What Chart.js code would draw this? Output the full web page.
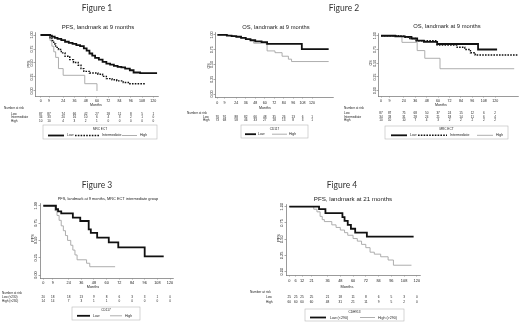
<!DOCTYPE html>
<html>
<head>
<meta charset="utf-8">
<script src="https://cdn.jsdelivr.net/npm/chart.js@4.4.1/dist/chart.umd.min.js"></script>
<style>
  html, body { margin: 0; padding: 0; background: #fff; }
  #page { position: relative; width: 520px; height: 327px; overflow: hidden; background: #fff; }
  .fig { position: absolute; font-family: Lato, "Open Sans", sans-serif; font-size: 8.5px; color: #333; transform: translateX(-50%); white-space: nowrap; filter: grayscale(1); }
</style>
</head>
<body>
<div id="page">
  <div class="fig" style="left:97px;top:3px">Figure 1</div>
  <div class="fig" style="left:344px;top:3px">Figure 2</div>
  <div class="fig" style="left:97px;top:180px">Figure 3</div>
  <div class="fig" style="left:342px;top:180px">Figure 4</div>
</div>
<script>
// ---- data ----
var yTicks = [0, 0.25, 0.5, 0.75, 1];
var ticks9 = [0, 9, 24, 36, 48, 60, 72, 84, 96, 108, 120];
var ticks21 = [0, 6, 12, 21, 36, 48, 60, 72, 84, 96, 108, 120];

// Figure 1: PFS, landmark 9 months, by MRC ECT
var f1LowT = [0, 10, 12, 15, 18, 22, 26, 30, 34, 38, 42, 46, 49, 52, 55, 58, 62, 66, 70, 74, 78, 82, 86, 90, 95, 99, 106, 124];
var f1LowS = [1, .99, .97, .95, .93, .91, .88, .86, .84, .82, .80, .76, .72, .67, .63, .59, .56, .52, .49, .47, .45, .43, .42, .40, .37, .33, .32, .32];
var f1IntT = [0, 10, 12, 14, 16, 19, 22, 26, 31, 35, 40, 43, 46, 52, 61, 66, 70, 76, 81, 88, 95, 111];
var f1IntS = [1, .95, .90, .84, .78, .74, .68, .62, .56, .51, .46, .40, .35, .32, .30, .26, .22, .20, .18, .15, .13, .13];
var f1HighT = [0, 10, 12, 14, 16, 19, 24, 47, 60];
var f1HighS = [1, .9, .8, .7, .6, .40, .28, .13, 0];
var f1RiskLow = [87, 87, 74, 66, 42, 27, 18, 11, 8, 5, 1];
var f1RiskInt = [34, 33, 20, 16, 10, 6, 4, 3, 2, 1, 0];
var f1RiskHigh = [10, 10, 4, 3, 2, 1, 0, 0, 0, 0, 0];

// Figure 2 left: OS, landmark 9 months, by CD117
var f2aLowT = [0, 12, 18, 24, 30, 36, 42, 48, 56, 63, 107, 141];
var f2aLowS = [1, .99, .98, .97, .95, .93, .91, .89, .88, .85, .76, .76];
var f2aHighT = [0, 14, 22, 30, 36, 41, 46, 61, 63, 73, 82, 90, 94, 141];
var f2aHighS = [1, .99, .97, .95, .93, .91, .86, .85, .73, .70, .64, .59, .55, .55];
var f2aRiskLow = [91, 91, 88, 82, 66, 48, 35, 26, 13, 6, 1];
var f2aRiskHigh = [73, 68, 58, 46, 33, 27, 18, 13, 8, 3, 1];

// Figure 2 right: OS, landmark 9 months, by MRC ECT
var f2bLowT = [0, 15, 25, 32, 38, 45, 59, 102, 122];
var f2bLowS = [1, .99, .98, .95, .91, .89, .85, .75, .75];
var f2bIntT = [0, 18, 24, 29, 36, 59, 80, 88, 94, 99, 145];
var f2bIntS = [1, .99, .97, .95, .91, .83, .79, .75, .69, .65, .65];
var f2bHighT = [0, 22, 38, 46, 62, 140];
var f2bHighS = [1, .88, .73, .59, .40, .40];
var f2bRiskLow = [87, 87, 75, 68, 50, 37, 24, 15, 12, 6, 2];
var f2bRiskInt = [34, 33, 31, 28, 24, 21, 18, 14, 11, 6, 4];
var f2bRiskHigh = [10, 10, 10, 7, 4, 3, 2, 2, 2, 2, 2];

// Figure 3: PFS, MRC ECT intermediate group
var f3LowT = [0, 12, 14, 17, 28, 35, 43, 45, 51, 62, 71, 96, 114];
var f3LowS = [1, .95, .92, .89, .83, .78, .66, .61, .54, .47, .40, .27, .27];
var f3HighT = [0, 11, 13, 15, 17, 19, 21, 23, 26, 28, 30, 32, 41, 44, 68];
var f3HighS = [1, .93, .86, .79, .71, .64, .57, .50, .43, .36, .29, .22, .17, .12, .12];
var f3RiskLow = [20, 18, 18, 13, 9, 8, 6, 3, 3, 1, 0];
var f3RiskHigh = [14, 14, 7, 3, 1, 1, 0, 0, 0, 0, 0];

// Figure 4: PFS, landmark 21 months
var f4LowT = [0, 28, 34, 50, 52, 55, 58, 62, 73, 117];
var f4LowS = [1, .96, .90, .84, .78, .72, .66, .60, .54, .54];
var f4HighT = [0, 23, 26, 29, 31, 33, 40, 44, 48, 52, 55, 60, 64, 68, 72, 76, 80, 86, 93, 98, 115];
var f4HighS = [1, .96, .92, .85, .80, .77, .72, .68, .64, .60, .56, .51, .47, .42, .37, .30, .27, .23, .18, .10, .10];
var f4RiskLow = [25, 25, 25, 25, 21, 18, 11, 8, 6, 5, 3, 0];
var f4RiskHigh = [60, 60, 60, 60, 48, 31, 21, 11, 9, 5, 2, 0];

// ---- drawing ----
var FONT = '"Liberation Sans", Arial, sans-serif';
var styles = {
  low: { color: '#111', width: 1.8, dash: [] },
  int: { color: '#111', width: 1.4, dash: [1.6, 1.2] },
  high: { color: '#a5a5a5', width: 0.9, dash: [] }
};

function curve(t, s, st) {
  return {
    data: t.map(function (v, i) { return { x: v, y: s[i] }; }),
    showLine: true, stepped: true, pointRadius: 0,
    borderColor: styles[st].color, borderWidth: styles[st].width, borderDash: styles[st].dash
  };
}

var kmExtras = {
  id: 'kmExtras',
  afterDraw: function (chart, args, o) {
    var ctx = chart.ctx, a = chart.chartArea;
    var xs = chart.scales.x, ys = chart.scales.y;
    function X(v) { return v - o.box.x; }
    function Y(v) { return v - o.box.y; }
    ctx.save();
    ctx.fillStyle = '#222';
    ctx.textBaseline = 'middle';
    ctx.textAlign = 'center';
    ctx.font = o.titleSize + 'px ' + FONT;
    ctx.fillText(o.title, X(o.titleX), Y(o.titleY));
    ctx.font = o.tickSize + 'px ' + FONT;
    yTicks.forEach(function (v) {
      ctx.save();
      ctx.translate(a.left - o.yLabOff, ys.getPixelForValue(v));
      ctx.rotate(-Math.PI / 2);
      ctx.fillText(v.toFixed(2), 0, 0);
      ctx.restore();
    });
    ctx.save();
    ctx.translate(X(o.yTitleX), Y(o.yTitleY));
    ctx.rotate(-Math.PI / 2);
    ctx.fillText(o.yTitle, 0, 0);
    ctx.restore();
    ctx.fillText('Months', X(o.monthsX), Y(o.monthsY));
    // number at risk
    ctx.font = o.riskSize + 'px ' + FONT;
    ctx.textAlign = 'left';
    ctx.fillText('Number at risk', X(o.riskX), Y(o.riskY));
    o.rows.forEach(function (r) {
      ctx.textAlign = 'left';
      ctx.fillText(r.label, X(o.rowX), Y(r.y));
      ctx.textAlign = 'center';
      r.counts.forEach(function (n, i) {
        ctx.fillText(String(n), xs.getPixelForValue(o.xTicks[i]), Y(r.y));
      });
    });
    // legend box
    var L = o.legend;
    ctx.strokeStyle = '#b8b8b8';
    ctx.lineWidth = 0.6;
    ctx.strokeRect(X(L.l), Y(L.t), L.r - L.l, L.b - L.t);
    ctx.textAlign = 'center';
    ctx.font = o.riskSize + 'px ' + FONT;
    ctx.fillText(L.title, X((L.l + L.r) / 2), Y(L.ty));
    ctx.font = (o.riskSize + 0.4) + 'px ' + FONT;
    L.items.forEach(function (it) {
      var st = styles[it.st];
      ctx.beginPath();
      ctx.strokeStyle = st.color;
      ctx.lineWidth = st.width;
      ctx.setLineDash(st.dash);
      ctx.moveTo(X(it.x1), Y(L.iy));
      ctx.lineTo(X(it.x2), Y(L.iy));
      ctx.stroke();
      ctx.setLineDash([]);
      ctx.textAlign = 'left';
      ctx.fillText(it.label, X(it.tx), Y(L.iy));
    });
    ctx.restore();
  }
};

function makePanel(p) {
  var cv = document.createElement('canvas');
  cv.width = p.box.w;
  cv.height = p.box.h;
  cv.style.position = 'absolute';
  cv.style.left = p.box.x + 'px';
  cv.style.top = p.box.y + 'px';
  document.getElementById('page').appendChild(cv);
  var xh = 11;
  var pad = {
    left: p.area.l - p.box.x - 2,
    top: p.area.t - p.box.y,
    right: p.box.x + p.box.w - p.area.r,
    bottom: p.box.y + p.box.h - p.area.b - xh
  };
  var axisGrid = { drawOnChartArea: false, tickLength: 1.5, color: '#555', lineWidth: 0.5 };
  var axisBorder = { color: '#555', width: 0.6 };
  new Chart(cv, {
    type: 'scatter',
    data: { datasets: p.datasets },
    options: {
      responsive: false,
      animation: false,
      layout: { padding: pad },
      plugins: { legend: { display: false }, tooltip: { enabled: false }, kmExtras: p.extras },
      scales: {
        x: {
          type: 'linear', min: p.xMin, max: p.xMax,
          afterBuildTicks: function (s) { s.ticks = p.extras.xTicks.map(function (v) { return { value: v }; }); },
          afterFit: function (s) { s.height = xh; },
          ticks: { autoSkip: false, maxRotation: 0, minRotation: 0, padding: p.xPad, color: '#222',
                   font: { size: p.extras.tickSize, family: FONT }, callback: function (v) { return String(v); } },
          grid: axisGrid, border: axisBorder
        },
        y: {
          type: 'linear', min: p.yMin, max: p.yMax,
          afterBuildTicks: function (s) { s.ticks = yTicks.map(function (v) { return { value: v }; }); },
          afterFit: function (s) { s.width = 2; },
          ticks: { display: false },
          grid: axisGrid, border: axisBorder
        }
      }
    },
    plugins: [kmExtras]
  });
}

// Figure 1
makePanel({
  box: { x: 0, y: 0, w: 170, h: 145 }, area: { l: 35, t: 32, r: 158, b: 96 },
  xMin: -6, xMax: 125, yMin: -0.09, yMax: 1.054, xPad: 1,
  datasets: [curve(f1LowT, f1LowS, 'low'), curve(f1IntT, f1IntS, 'int'), curve(f1HighT, f1HighS, 'high')],
  extras: {
    box: { x: 0, y: 0 }, xTicks: ticks9,
    title: 'PFS, landmark at 9 months', titleX: 98, titleY: 27.5, titleSize: 6,
    tickSize: 3.6, yLabOff: 3.2, yTitle: 'PFS', yTitleX: 28.5, yTitleY: 64,
    monthsX: 96, monthsY: 104.5,
    riskSize: 3.1, riskX: 4, riskY: 108.3, rowX: 11,
    rows: [{ label: 'Low', y: 114, counts: f1RiskLow }, { label: 'Intermediate', y: 117.4, counts: f1RiskInt }, { label: 'High', y: 120.8, counts: f1RiskHigh }],
    legend: { l: 43, t: 125, r: 157, b: 139, title: 'MRC ECT', ty: 129.5, iy: 135.5,
      items: [{ st: 'low', x1: 48, x2: 64, tx: 67, label: 'Low' }, { st: 'int', x1: 75, x2: 100, tx: 102, label: 'Intermediate' }, { st: 'high', x1: 122, x2: 137, tx: 140, label: 'High' }] }
  }
});

// Figure 2 left
makePanel({
  box: { x: 180, y: 0, w: 160, h: 145 }, area: { l: 215, t: 32, r: 333, b: 97 },
  xMin: -3, xMax: 146.5, yMin: -0.05, yMax: 1.05, xPad: 2,
  datasets: [curve(f2aLowT, f2aLowS, 'low'), curve(f2aHighT, f2aHighS, 'high')],
  extras: {
    box: { x: 180, y: 0 }, xTicks: ticks9,
    title: 'OS, landmark at 9 months', titleX: 276, titleY: 27, titleSize: 5.8,
    tickSize: 3.6, yLabOff: 3.2, yTitle: 'OS', yTitleX: 209, yTitleY: 66,
    monthsX: 265, monthsY: 107.5,
    riskSize: 3.1, riskX: 187, riskY: 112.7, rowX: 203,
    rows: [{ label: 'Low', y: 117, counts: f2aRiskLow }, { label: 'High', y: 120.5, counts: f2aRiskHigh }],
    legend: { l: 241, t: 125, r: 308, b: 138, title: 'CD117', ty: 128.8, iy: 134.2,
      items: [{ st: 'low', x1: 245, x2: 256, tx: 258, label: 'Low' }, { st: 'high', x1: 272, x2: 287, tx: 289, label: 'High' }] }
  }
});

// Figure 2 right
makePanel({
  box: { x: 340, y: 0, w: 180, h: 145 }, area: { l: 378, t: 33, r: 518, b: 96 },
  xMin: -3.2, xMax: 144, yMin: -0.096, yMax: 1.05, xPad: 1.2,
  datasets: [curve(f2bLowT, f2bLowS, 'low'), curve(f2bIntT, f2bIntS, 'int'), curve(f2bHighT, f2bHighS, 'high')],
  extras: {
    box: { x: 340, y: 0 }, xTicks: ticks9,
    title: 'OS, landmark at 9 months', titleX: 447, titleY: 26.5, titleSize: 5.8,
    tickSize: 3.6, yLabOff: 3.2, yTitle: 'OS', yTitleX: 371, yTitleY: 63,
    monthsX: 441, monthsY: 104.5,
    riskSize: 3.1, riskX: 344, riskY: 108.3, rowX: 344,
    rows: [{ label: 'Low', y: 113.5, counts: f2bRiskLow }, { label: 'Intermediate', y: 117, counts: f2bRiskInt }, { label: 'High', y: 120.5, counts: f2bRiskHigh }],
    legend: { l: 385, t: 126, r: 508, b: 139, title: 'MRC ECT', ty: 129.5, iy: 135.3,
      items: [{ st: 'low', x1: 391, x2: 407, tx: 410, label: 'Low' }, { st: 'int', x1: 418, x2: 447, tx: 450, label: 'Intermediate' }, { st: 'high', x1: 477, x2: 493, tx: 496, label: 'High' }] }
  }
});

// Figure 3
makePanel({
  box: { x: 0, y: 180, w: 180, h: 147 }, area: { l: 40, t: 203, r: 173, b: 278 },
  xMin: -3.1, xMax: 122.8, yMin: -0.043, yMax: 1.04, xPad: 1.2,
  datasets: [curve(f3LowT, f3LowS, 'low'), curve(f3HighT, f3HighS, 'high')],
  extras: {
    box: { x: 0, y: 180 }, xTicks: ticks9,
    title: 'PFS, landmark at 9 months, MRC ECT intermediate group', titleX: 108, titleY: 199, titleSize: 3.9,
    tickSize: 3.8, yLabOff: 3.6, yTitle: 'PFS', yTitleX: 33, yTitleY: 238,
    monthsX: 93, monthsY: 287,
    riskSize: 3.1, riskX: 2, riskY: 292.7, rowX: 2,
    rows: [{ label: 'Low (<230)', y: 297, counts: f3RiskLow }, { label: 'High (>230)', y: 301, counts: f3RiskHigh }],
    legend: { l: 72, t: 307, r: 140, b: 320, title: 'CD117', ty: 310.5, iy: 315.8,
      items: [{ st: 'low', x1: 77, x2: 90, tx: 93, label: 'Low' }, { st: 'high', x1: 110, x2: 122, tx: 125, label: 'High' }] }
  }
});

// Figure 4
makePanel({
  box: { x: 240, y: 180, w: 200, h: 147 }, area: { l: 286, t: 204, r: 420, b: 275 },
  xMin: -3.1, xMax: 123, yMin: -0.05, yMax: 1.04, xPad: 2.5,
  datasets: [curve(f4LowT, f4LowS, 'low'), curve(f4HighT, f4HighS, 'high')],
  extras: {
    box: { x: 240, y: 180 }, xTicks: ticks21,
    title: 'PFS, landmark at 21 months', titleX: 353, titleY: 199, titleSize: 6.2,
    tickSize: 3.9, yLabOff: 3.6, yTitle: 'PFS', yTitleX: 278.5, yTitleY: 238,
    monthsX: 347, monthsY: 286.7,
    riskSize: 3.2, riskX: 250, riskY: 292, rowX: 266,
    rows: [{ label: 'Low', y: 297, counts: f4RiskLow }, { label: 'High', y: 301.7, counts: f4RiskHigh }],
    legend: { l: 305, t: 309, r: 404, b: 321, title: 'CDH913', ty: 312.3, iy: 317.5,
      items: [{ st: 'low', x1: 310, x2: 326, tx: 330, label: 'Low (<290)' }, { st: 'high', x1: 360, x2: 375, tx: 378, label: 'High (>290)' }] }
  }
});
</script>
</body>
</html>
